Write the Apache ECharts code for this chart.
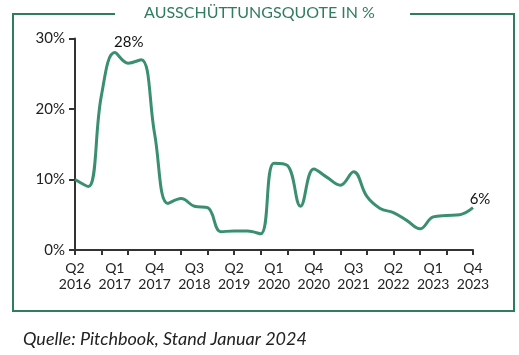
<!DOCTYPE html>
<html><head><meta charset="utf-8">
<script src="https://cdn.jsdelivr.net/npm/echarts@6/dist/echarts.min.js"></script>
<style>html,body{margin:0;padding:0;background:#fff}#c{width:519px;height:355px}</style>
</head><body><div id="c"></div>
<script>
var categories = [];
var years = [2016,2017,2018,2019,2020,2021,2022,2023];
years.forEach(function(y){ [1,2,3,4].forEach(function(q){ if(!(y===2016 && q===1)) categories.push('Q'+q+'\n'+y); }); });
var payoutRatio = [10.0, 9.0, 22.0, 28.0, 26.5, 27.0, 16.5, 6.6, 7.3, 6.2, 6.0, 2.6, 2.7, 2.7, 2.3, 12.3, 12.0, 6.2, 11.5, 10.3, 9.2, 11.1, 7.6, 5.9, 5.3, 4.2, 3.0, 4.7, 4.9, 5.0, 6.0];
var labelledIdx = {3: '28%', 30: '6%'};
var yTicks = [0, 10, 20, 30];

var green = '#3b8f71';
var frame = '#2f7c5f';
var chart = echarts.init(document.getElementById('c'), null, {renderer: 'canvas'});
var seriesData = payoutRatio.map(function(v, i){
  if (labelledIdx[i]) {
    return {value: v, label: {show: true, formatter: labelledIdx[i],
      position: i === 3 ? [14, -3] : [7, -1], align: 'center', verticalAlign: 'bottom',
      fontFamily: 'Lato', fontSize: 15, color: '#111'}};
  }
  return v;
});
chart.setOption({
  animation: false,
  textStyle: {fontFamily: 'Lato'},
  graphic: [
    {type: 'rect', shape: {x: 13, y: 14, width: 501, height: 297}, style: {fill: 'none', stroke: frame, lineWidth: 2}, z: 0},
    {type: 'rect', shape: {x: 115, y: 4, width: 295, height: 20}, style: {fill: '#fff'}, z: 1},
    {type: 'text', left: 'center', top: 5, style: {text: 'AUSSCHÜTTUNGSQUOTE IN %', fill: frame, font: '16px Lato'}, z: 2},
    {type: 'text', left: 23, top: 330, style: {text: 'Quelle: Pitchbook, Stand Januar 2024', fill: '#222', font: 'italic 18px Lato'}, z: 2}
  ],
  grid: {left: 75, right: 46, top: 38.5, bottom: 105},
  xAxis: {
    type: 'category', data: categories, boundaryGap: false,
    axisLine: {lineStyle: {color: '#333', width: 2}},
    axisTick: {show: true, interval: 1, length: 5, lineStyle: {color: '#333', width: 2}},
    axisLabel: {interval: 2, fontFamily: 'Lato', fontSize: 14, color: '#222', lineHeight: 16, margin: 10}
  },
  yAxis: {
    type: 'value', min: yTicks[0], max: yTicks[yTicks.length-1], interval: 10,
    splitLine: {show: false},
    axisLine: {show: true, lineStyle: {color: '#333', width: 2}},
    axisTick: {show: true, length: 6, lineStyle: {color: '#333', width: 2}},
    axisLabel: {formatter: '{value}%', fontFamily: 'Lato', fontSize: 15, color: '#222', margin: 10}
  },
  series: [{
    type: 'line', data: seriesData, smooth: 0.4, showSymbol: true, showAllSymbol: true, symbol: 'circle', symbolSize: 0.01,
    itemStyle: {color: green},
    labelLayout: {hideOverlap: false},
    lineStyle: {color: green, width: 3}
  }]
});
</script></body></html>
